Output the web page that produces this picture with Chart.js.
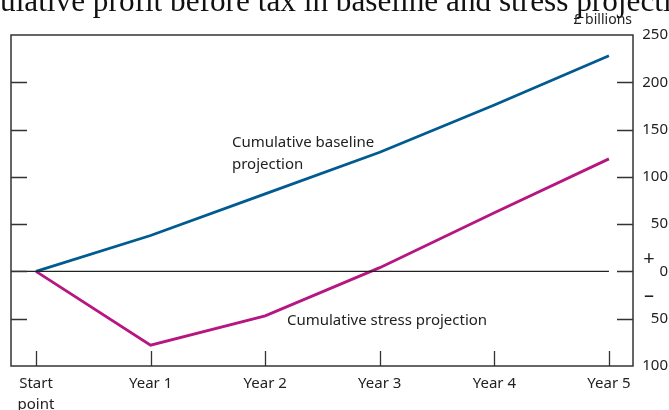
<!DOCTYPE html>
<html>
<head>
<meta charset="utf-8">
<script src="https://cdn.jsdelivr.net/npm/chart.js@4.4.1/dist/chart.umd.min.js"></script>
<style>
  html, body { margin: 0; padding: 0; background: #fff; }
  #wrap { width: 669px; height: 410px; }
</style>
</head>
<body>
<div id="wrap"><canvas id="chart"></canvas></div>
<script>
const categories = ["Start point", "Year 1", "Year 2", "Year 3", "Year 4", "Year 5"];
const baseline = [0, 38, 82, 126, 176, 228];
const stress = [0, -78, -47, 4, 62, 119];
const yTicks = [250, 200, 150, 100, 50, 0, -50, -100];

const FONT = '"Noto Sans", "Open Sans", sans-serif';
const INK = "#222";
const BLUE = "#005b91";
const MAGENTA = "#b5167f";

const frame = {
  id: "frame",
  afterDraw(chart) {
    const { ctx, chartArea: a, scales: { x, y } } = chart;
    ctx.save();

    // title, cut off at the top like the source image
    const title = "Cumulative profit before tax in baseline and stress projections";
    ctx.font = '24px "Liberation Serif", serif';
    const seen = ctx.measureText("ulative profit before tax in baseline and stress projecti").width;
    const size = 24 * 672 / seen;
    ctx.font = size + 'px "Liberation Serif", serif';
    ctx.fillStyle = "#111";
    ctx.textBaseline = "alphabetic";
    ctx.textAlign = "left";
    ctx.fillText(title, -ctx.measureText("Cum").width, 11);

    ctx.font = "14px " + FONT;
    ctx.textAlign = "right";
    ctx.textBaseline = "middle";
    ctx.fillStyle = INK;
    ctx.fillText("£ billions", a.right - 1, 20);

    // zero line
    const y0 = y.getPixelForValue(0);
    ctx.strokeStyle = "#222";
    ctx.lineWidth = 1.2;
    ctx.beginPath();
    ctx.moveTo(a.left, y0);
    ctx.lineTo(x.getPixelForValue(5), y0);
    ctx.stroke();

    // box
    ctx.strokeStyle = "#333";
    ctx.lineWidth = 1.5;
    ctx.strokeRect(a.left, a.top, a.right - a.left, a.bottom - a.top);

    // inward ticks
    ctx.lineWidth = 1.3;
    ctx.beginPath();
    yTicks.slice(1, -1).forEach(v => {
      const py = Math.round(y.getPixelForValue(v)) + 0.5;
      ctx.moveTo(a.left, py); ctx.lineTo(a.left + 16, py);
      ctx.moveTo(a.right - 16, py); ctx.lineTo(a.right, py);
    });
    categories.forEach((c, i) => {
      const px = Math.round(x.getPixelForValue(i)) + 0.5;
      ctx.moveTo(px, a.bottom); ctx.lineTo(px, a.bottom - 15);
    });
    ctx.stroke();

    // sign markers beside the zero label
    ctx.font = "20px " + FONT;
    ctx.textAlign = "center";
    ctx.fillStyle = INK;
    ctx.fillText("+", 649, y0 - 12);
    ctx.fillText("\u2013", 649, y0 + 25);

    // series labels
    ctx.font = "15px " + FONT;
    ctx.textAlign = "left";
    ctx.fillText("Cumulative baseline", x.getPixelForValue(1.71), y.getPixelForValue(136));
    ctx.fillText("projection", x.getPixelForValue(1.71), y.getPixelForValue(113));
    ctx.fillText("Cumulative stress projection", x.getPixelForValue(2.19), y.getPixelForValue(-52));

    ctx.restore();
  }
};

new Chart(document.getElementById("chart"), {
  type: "line",
  data: {
    datasets: [
      {
        label: "Cumulative baseline projection",
        data: baseline.map((v, i) => ({ x: i, y: v })),
        borderColor: BLUE,
        borderWidth: 2.8,
        pointRadius: 0,
        tension: 0
      },
      {
        label: "Cumulative stress projection",
        data: stress.map((v, i) => ({ x: i, y: v })),
        borderColor: MAGENTA,
        borderWidth: 2.8,
        pointRadius: 0,
        tension: 0
      }
    ]
  },
  options: {
    responsive: true,
    maintainAspectRatio: false,
    animation: false,
    layout: { padding: { left: 11, right: 1, top: 35, bottom: 0 } },
    plugins: { legend: { display: false }, tooltip: { enabled: false } },
    scales: {
      x: {
        type: "linear",
        min: -0.218,
        max: 5.21,
        grid: { display: false },
        border: { display: false },
        afterBuildTicks: s => { s.ticks = categories.map((c, i) => ({ value: i })); },
        afterFit: s => { s.height = 44; },
        ticks: {
          padding: 0,
          color: INK,
          font: { family: FONT, size: 15, lineHeight: 1.35 },
          maxRotation: 0,
          callback: v => {
            const c = categories[v];
            return c && c.startsWith("Start") ? c.split(" ") : c;
          }
        }
      },
      y: {
        position: "right",
        min: -100,
        max: 250,
        grid: { display: false },
        border: { display: false },
        afterBuildTicks: s => { s.ticks = yTicks.map(v => ({ value: v })); },
        afterFit: s => { s.width = 35; },
        ticks: {
          crossAlign: "far",
          color: INK,
          font: { family: FONT, size: 15 },
          callback: v => Math.abs(v)
        }
      }
    }
  },
  plugins: [frame]
});
</script>
</body>
</html>
